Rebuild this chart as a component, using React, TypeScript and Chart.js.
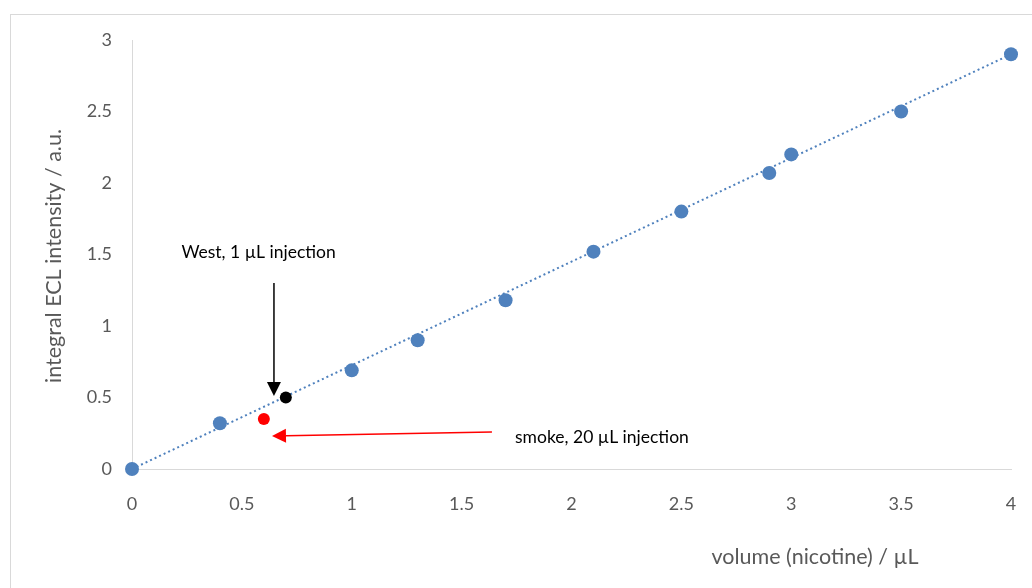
import React, { useEffect, useRef } from "react";
import { Chart, registerables } from "chart.js";

Chart.register(...registerables);

// ---- data ----
const calibrationX = [0, 0.4, 1, 1.3, 1.7, 2.1, 2.5, 2.9, 3, 3.5, 4];
const calibrationY = [0, 0.32, 0.69, 0.9, 1.18, 1.52, 1.8, 2.07, 2.2, 2.5, 2.9];
const trendX = [0, 4];
const trendY = [0, 2.9];
const westSampleX = [0.7];
const westSampleY = [0.5];
const smokeSampleX = [0.6];
const smokeSampleY = [0.35];
const xAxisTitle = "volume (nicotine) / µL";
const yAxisTitle = "integral ECL intensity / a.u.";
const westLabel = "West, 1 µL injection";
const smokeLabel = "smoke, 20 µL injection";

// annotation anchors in data units
const westText = { x: 0.576, y: 1.515 };
const westArrow = { x1: 0.646, y1: 1.3, x2: 0.646, y2: 0.51 };
const smokeText = { x: 1.743, y: 0.224 };
const smokeArrow = { x1: 1.638, y1: 0.259, x2: 0.637, y2: 0.231 };

const FONT = "Lato, 'Open Sans', sans-serif";
const GREY = "#595959";
const BLUE = "#4F81BD";

const toPts = (xs: number[], ys: number[]) => xs.map((x, i) => ({ x, y: ys[i] }));

function drawArrow(ctx: CanvasRenderingContext2D, x1: number, y1: number, x2: number, y2: number, color: string) {
  const ang = Math.atan2(y2 - y1, x2 - x1);
  const head = 14;
  const hw = 7;
  const bx = x2 - head * Math.cos(ang);
  const by = y2 - head * Math.sin(ang);
  ctx.save();
  ctx.strokeStyle = color;
  ctx.fillStyle = color;
  ctx.lineWidth = 1.5;
  ctx.beginPath();
  ctx.moveTo(x1, y1);
  ctx.lineTo(bx, by);
  ctx.stroke();
  ctx.beginPath();
  ctx.moveTo(x2, y2);
  ctx.lineTo(bx + hw * Math.sin(ang), by - hw * Math.cos(ang));
  ctx.lineTo(bx - hw * Math.sin(ang), by + hw * Math.cos(ang));
  ctx.closePath();
  ctx.fill();
  ctx.restore();
}

const decorPlugin = {
  id: "decor",
  beforeDraw(chart: any) {
    const ctx = chart.ctx as CanvasRenderingContext2D;
    ctx.save();
    ctx.fillStyle = "#ffffff";
    ctx.fillRect(0, 0, chart.width, chart.height);
    ctx.strokeStyle = "#D9D9D9";
    ctx.lineWidth = 1;
    ctx.strokeRect(10.5, 14.5, chart.width + 20, chart.height + 20);
    ctx.restore();
  },
  afterDraw(chart: any) {
    const ctx = chart.ctx as CanvasRenderingContext2D;
    const xs = chart.scales.x;
    const ys = chart.scales.y;
    const px = (v: number) => xs.getPixelForValue(v);
    const py = (v: number) => ys.getPixelForValue(v);
    ctx.save();
    // axis titles
    ctx.fillStyle = GREY;
    ctx.font = `21.5px ${FONT}`;
    ctx.textAlign = "center";
    ctx.textBaseline = "middle";
    ctx.fillText(xAxisTitle, 815, 557);
    ctx.save();
    ctx.translate(54, 256);
    ctx.rotate(-Math.PI / 2);
    ctx.fillText(yAxisTitle, 0, 0);
    ctx.restore();
    // annotations
    ctx.fillStyle = "#000000";
    ctx.font = `17.5px ${FONT}`;
    ctx.textAlign = "center";
    ctx.fillText(westLabel, px(westText.x), py(westText.y));
    ctx.textAlign = "left";
    ctx.fillText(smokeLabel, px(smokeText.x), py(smokeText.y));
    drawArrow(ctx, px(westArrow.x1), py(westArrow.y1), px(westArrow.x2), py(westArrow.y2), "#000000");
    drawArrow(ctx, px(smokeArrow.x1), py(smokeArrow.y1), px(smokeArrow.x2), py(smokeArrow.y2), "#FF0000");
    ctx.restore();
  },
};

const fmt = (v: any) => String(Math.round(Number(v) * 100) / 100);

export default function App() {
  const ref = useRef<HTMLCanvasElement | null>(null);
  useEffect(() => {
    if (!ref.current) return;
    const chart = new Chart(ref.current, {
      type: "scatter",
      data: {
        datasets: [
          {
            label: "samples",
            data: toPts(calibrationX, calibrationY),
            backgroundColor: BLUE,
            borderWidth: 0,
            pointRadius: 7,
            clip: false,
            order: 1,
          } as any,
          {
            label: "West",
            data: toPts(westSampleX, westSampleY),
            backgroundColor: "#000000",
            borderWidth: 0,
            pointRadius: 6,
            clip: false,
            order: 0,
          } as any,
          {
            label: "smoke",
            data: toPts(smokeSampleX, smokeSampleY),
            backgroundColor: "#FF0000",
            borderWidth: 0,
            pointRadius: 6,
            clip: false,
            order: 0,
          } as any,
          {
            label: "trend",
            data: toPts(trendX, trendY),
            showLine: true,
            borderColor: BLUE,
            borderWidth: 2,
            borderDash: [2, 3],
            pointRadius: 0,
            clip: false,
            order: 2,
          } as any,
        ],
      },
      options: {
        animation: false,
        responsive: false,
        devicePixelRatio: 1,
        layout: { padding: { left: 0, top: 40, right: 21, bottom: 0 } },
        plugins: { legend: { display: false }, tooltip: { enabled: false } },
        scales: {
          x: {
            type: "linear",
            min: 0,
            max: 4,
            ticks: { stepSize: 0.5, color: GREY, font: { family: FONT, size: 18 }, padding: 24, callback: fmt },
            grid: { display: false, drawTicks: false },
            border: { display: true, color: "#D9D9D9", width: 1 },
            afterFit: (s: any) => {
              s.height = 119;
              s.paddingRight = 0;
              s.paddingLeft = 0;
            },
          },
          y: {
            type: "linear",
            min: 0,
            max: 3,
            ticks: { stepSize: 0.5, color: GREY, font: { family: FONT, size: 18 }, padding: 20, callback: fmt },
            grid: { display: false, drawTicks: false },
            border: { display: true, color: "#D9D9D9", width: 1 },
            afterFit: (s: any) => {
              s.width = 132;
              s.paddingTop = 0;
              s.paddingBottom = 0;
            },
          },
        },
      },
      plugins: [decorPlugin],
    });
    return () => chart.destroy();
  }, []);
  return (
    <div style={{ position: "fixed", left: 0, top: 0, width: 1032, height: 588 }}>
      <canvas ref={ref} width={1032} height={588} style={{ width: 1032, height: 588 }} />
    </div>
  );
}
